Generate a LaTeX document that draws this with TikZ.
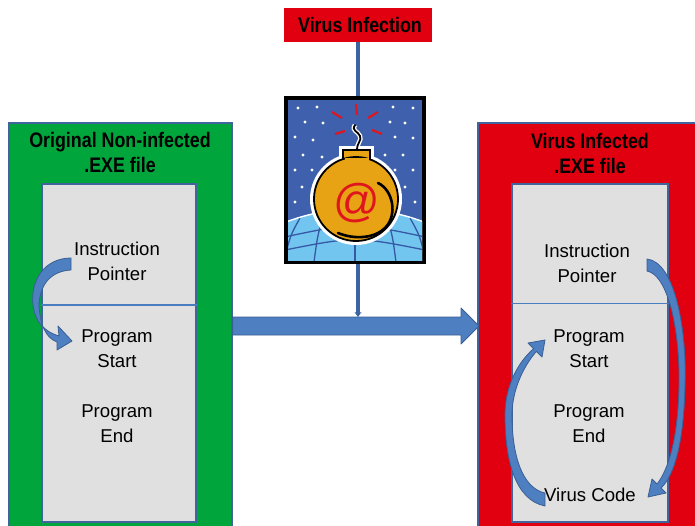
\documentclass[tikz,border=0pt]{standalone}
\usepackage{fontspec}
\setmainfont{Liberation Sans}
\newfontfamily\headfont{Liberation Sans}[FakeStretch=0.85]
\usetikzlibrary{arrows.meta}

\definecolor{boxgreen}{HTML}{00A53B}
\definecolor{boxred}{HTML}{E1000F}
\definecolor{frameblue}{HTML}{41649C}
\definecolor{dividerblue}{HTML}{4A7CC0}
\definecolor{panelgray}{HTML}{E0E0E0}
\definecolor{arrowfill}{HTML}{4E7FC0}
\definecolor{arrowedge}{HTML}{3A5F95}
\definecolor{linkblue}{HTML}{3C64A0}
\definecolor{skyblue}{HTML}{3F61AD}
\definecolor{gridblue}{HTML}{3559A6}
\definecolor{globeblue}{HTML}{72C5EE}
\definecolor{bombgold}{HTML}{E8A314}
\definecolor{sparkred}{HTML}{E0161E}

\tikzset{
  filebox/.style={rectangle, draw=frameblue, line width=1.2pt, inner sep=0pt},
  panel/.style={rectangle, fill=panelgray, draw=frameblue, line width=1.2pt, inner sep=0pt},
  heading/.style={font=\headfont\bfseries\fontsize{21}{25}\selectfont, align=center, inner sep=0pt},
  label/.style={font=\fontsize{18.6}{25}\selectfont, align=center, inner sep=0pt},
  flow/.style={fill=arrowfill, draw=arrowedge, line width=0.8pt, line join=round},
  link/.style={draw=linkblue, line width=3.4pt},
}

\begin{document}
\begin{tikzpicture}[x=1pt, y=-1pt]
\useasboundingbox (0,0) rectangle (695,525);
\fill[white] (0,0) rectangle (695,525);

% the two executable files
\node[filebox, fill=boxgreen, minimum width=223pt, minimum height=405pt] (origfile) at (120.5,325.5) {};
\node[filebox, fill=boxred, minimum width=219pt, minimum height=405pt] (infile) at (587.5,325.5) {};
\node[panel, minimum width=154pt, minimum height=338pt] (origpanel) at (119,353) {};
\node[panel, minimum width=156pt, minimum height=338pt] (inpanel) at (590,353) {};
\draw[dividerblue, line width=1.3pt] (origpanel.west |- 0,305) -- (origpanel.east |- 0,305);
\draw[dividerblue, line width=1.3pt] (inpanel.west |- 0,303.5) -- (inpanel.east |- 0,303.5);

% infection block arrow between the files
\coordinate (arrtop) at (357,317);
\draw[flow] (origfile.east |- 0,317) -- (461,317) -- (461,308) -- (479,326)
  -- (461,344) -- (461,335) -- (origfile.east |- 0,335) -- cycle;

% virus source
\node[fill=boxred, minimum width=148pt, minimum height=34pt, inner sep=0pt] (vi) at (358,25) {};
\node[heading] (vitext) at (360,24.5) {Virus Infection};
\draw[link, -{Stealth[length=5pt,width=7pt]}] (vi.south) -- (vi.south |- arrtop);

% mail bomb picture
\fill[black] (284,96) rectangle (426,264);
\fill[skyblue] (288,100) rectangle (422,260);
\begin{scope}
  \clip (288,100) rectangle (422,260);
  \fill[white] (355,400) circle (191.5);
  \fill[globeblue] (355,400) circle (190);
  \clip (355,400) circle (190);
  \begin{scope}[gridblue, line width=1.3pt]
    \draw (280,238) .. controls (355,222) .. (430,238);
    \draw (280,251) .. controls (355,236) .. (430,251);
    \draw (355,205) -- (355,262);
    \draw (326,212) .. controls (318,232) .. (314,262);
    \draw (384,212) .. controls (392,232) .. (396,262);
    \draw (300,218) .. controls (290,236) .. (284,262);
    \draw (410,218) .. controls (420,236) .. (426,262);
  \end{scope}
\end{scope}
\foreach \p in {(298,108),(317,107),(305,122),(323,123),(295,137),(313,140),
  (303,155),(322,157),(295,170),(312,170),(302,187),(295,202),
  (393,107),(413,108),(390,122),(405,123),(395,137),(413,138),
  (385,155),(403,155),(395,170),(413,170),(405,187),(415,202)}
  \fill[white] \p circle (1.7);
% bomb body
\fill[white] (356,199) circle (46);
\fill[white] (339,146) rectangle (374,172);
\draw[white, line width=4.5pt] (357,150) .. controls (357,142) and (362,141) .. (360,136)
  .. controls (358,131) and (351,131) .. (355,125);
\draw[fill=bombgold, draw=black, line width=1.8pt] (343,150) rectangle (370,170);
\draw[fill=bombgold, draw=black, line width=1.8pt] (356,199) circle (42);
\fill[bombgold] (344.5,158) rectangle (368.5,168);
\draw[black, line width=1.8pt, line cap=round] (357,150) .. controls (357,142) and (362,141) .. (360,136)
  .. controls (358,131) and (351,131) .. (355,125);
\draw[black, line width=2.6pt, line cap=round] (378,183) .. controls (393,190) and (398,215) .. (385,228)
  .. controls (375,238) and (355,240) .. (338,233);
\node[text=sparkred, font=\fontsize{46}{46}\selectfont, inner sep=0pt] (atsign) at (357,203) {@};
\begin{scope}[sparkred, line width=2.2pt]
  \draw (356,104) -- (357,115);
  \draw (332,112) -- (342,118);
  \draw (335,134) -- (345,131);
  \draw (368,118) -- (378,112);
  \draw (372,130) -- (382,134);
\end{scope}

% file titles
\node[heading] (origtitle) at (120,152) {Original Non-infected\\.EXE file};
\node[heading] (intitle) at (590,153.5) {Virus Infected\\.EXE file};

% original file contents
\node[label] (oip) at (117,261) {Instruction\\Pointer};
\node[label] (ops) at (117,348.5) {Program\\Start};
\node[label] (ope) at (117,423.5) {Program\\End};

% infected file contents
\node[label] (iip) at (587,263) {Instruction\\Pointer};
\node[label] (ips) at (589,348.5) {Program\\Start};
\node[label] (ipe) at (589,423.5) {Program\\End};
\node[label] (ivc) at (590,495) {Virus Code};

% control flow of the original file
\draw[flow] (71,258) .. controls (45,258) and (30,280) .. (33,305)
  .. controls (35,322) and (45,332) .. (59,336)
  -- (58,326) -- (72,341) -- (57,350) -- (57,342)
  .. controls (46,338) and (40,325) .. (39,305)
  .. controls (40,283) and (52,271) .. (71,270) -- cycle;

% control flow of the infected file: jump to the virus, then back
\draw[flow] (647,259) .. controls (675,262) and (687,330) .. (685,385)
  .. controls (684,440) and (675,475) .. (661,488)
  -- (666,493) -- (648,497) -- (652,479) -- (657,484)
  .. controls (668,470) and (678,440) .. (679,385)
  .. controls (680,330) and (668,275) .. (647,271) -- cycle;
\draw[flow] (545,506) .. controls (515,500) and (505,460) .. (505,415)
  .. controls (505,390) and (515,365) .. (533.6,348.6)
  -- (528,343) -- (545,340) -- (542,357) -- (536.4,351.4)
  .. controls (522,368) and (512,392) .. (512,415)
  .. controls (512,455) and (522,488) .. (545,493) -- cycle;
\end{tikzpicture}
\end{document}
